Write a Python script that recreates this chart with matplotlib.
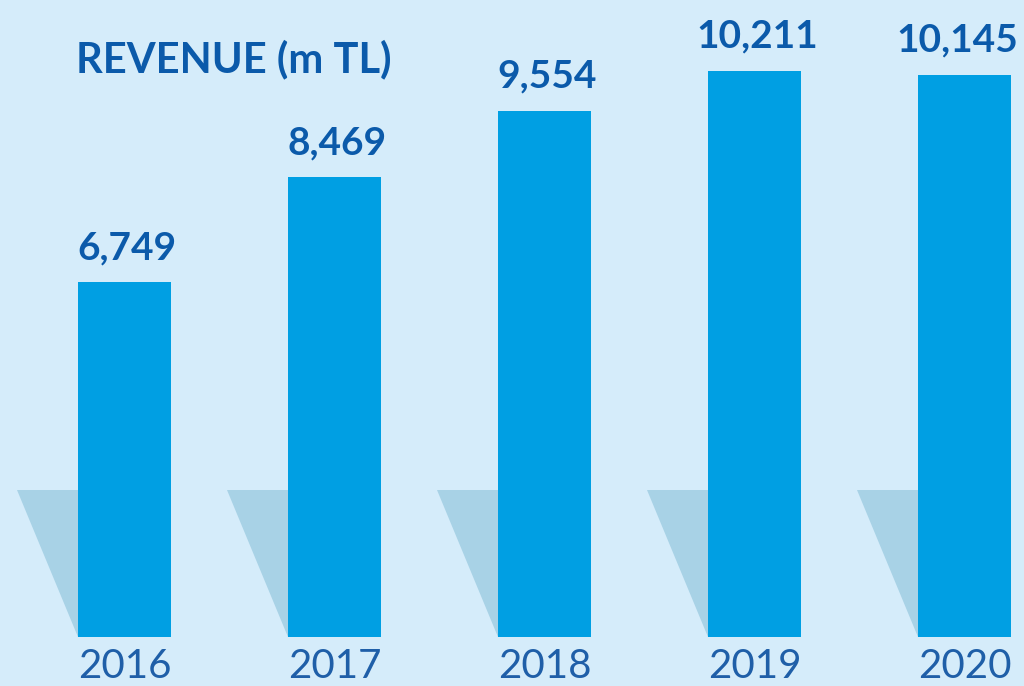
import matplotlib
matplotlib.use("Agg")
import matplotlib.pyplot as plt
from matplotlib.patches import Polygon

years = ["2016", "2017", "2018", "2019", "2020"]
revenue = [6749, 8469, 9554, 10211, 10145]
value_labels = ["6,749", "8,469", "9,554", "10,211", "10,145"]
title = "REVENUE (m TL)"

BG = "#D5ECFA"
BAR = "#009FE3"
SHADOW = "#A8D2E6"
DARK = "#0B5AAA"
YEARC = "#1F5FA8"

plt.rcParams['font.family'] = ['Lato', 'DejaVu Sans']

fig = plt.figure(figsize=(10.24, 6.86), dpi=100, facecolor=BG)
ax = fig.add_axes([0, 49/686, 1, 637/686])
ax.set_facecolor(BG)
ymin, ymax = 930, 11369
ax.set_xlim(-124.5/210, (1024-124.5)/210)
ax.set_ylim(ymin, ymax)
ax.axis('off')

x = list(range(len(years)))
w = 93/210
ax.bar(x, revenue, width=w, color=BAR, zorder=3)

# decorative shadows
ypx = 637/(ymax-ymin)
for i in x:
    left = i - w/2
    top = ymin + (637-490)/ypx
    sw = 61/210
    poly = Polygon([(left - sw, top), (left, top), (left, ymin)], closed=True,
                   facecolor=SHADOW, edgecolor='none', zorder=2)
    ax.add_patch(poly)

for i, v, lab in zip(x, revenue, value_labels):
    dx = -5 if i == len(x) - 1 else 2
    ax.annotate(lab, (i, v), xytext=(dx, 16.5), textcoords='offset points',
                ha='center', va='baseline', fontsize=28, fontweight='bold', color=DARK)

for i, y in zip(x, years):
    ax.annotate(y, (i, ymin), xytext=(0, -29.5), textcoords='offset points',
                ha='center', va='baseline', fontsize=29, color=YEARC, annotation_clip=False)

fig.text(76/1024, 1-72/686, title, ha='left', va='baseline', fontsize=30,
         fontweight='bold', color=DARK)

fig.savefig("out.png", dpi=100, facecolor=BG)
